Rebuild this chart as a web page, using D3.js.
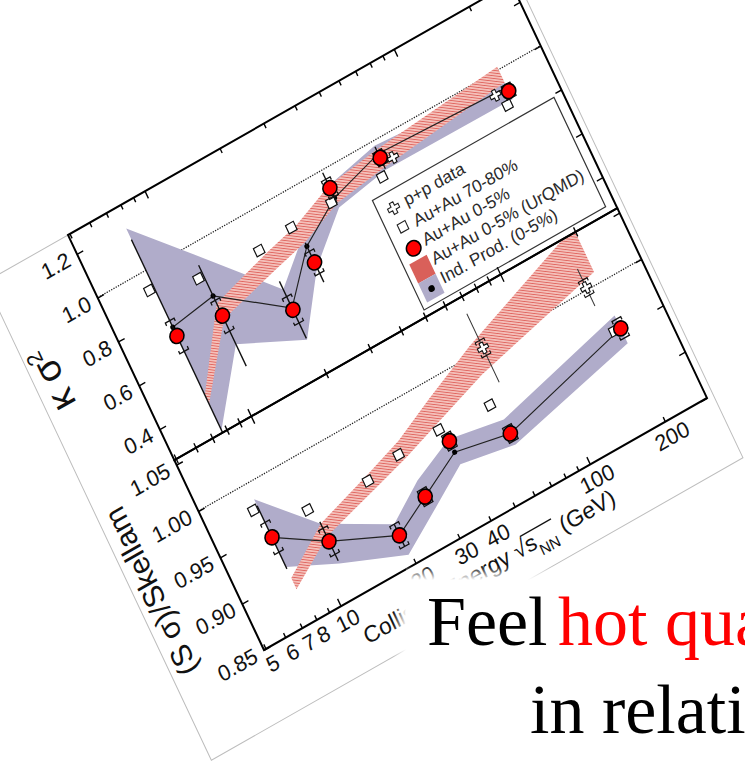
<!DOCTYPE html>
<html>
<head>
<meta charset="utf-8">
<script src="https://cdn.jsdelivr.net/npm/d3@7"></script>
<style>
  html, body { margin: 0; padding: 0; background: #fff; }
  svg { display: block; }
</style>
</head>
<body>
<div id="wrapper"></div>
<script>
// collision energies (GeV)
const energies = [7.7, 11.5, 19.6, 27, 39, 62.4, 200];
const periphEnergies = [7.37, 10.97, 18.8, 25.7, 37.5, 59.3, 189];
const ppEnergies = [68.6, 179];

// kappa sigma^2 panel
const kCentral = [0.70, 0.68, 0.557, 0.683, 0.919, 0.925, 0.902];
const kStat = [0.44, 0.23, 0.13, 0.09, 0.07, 0.05, 0.03];
const kSys = [0.07, 0.07, 0.06, 0.05, 0.04, 0.03, 0.03];
const kPeriph = [0.92, 0.862, 0.839, 0.856, 0.864, 0.852, 0.854];
const kPP = [0.90, 0.914];
const kPPerr = [0.02, 0.02];
const kUrqmd = [0.41, 0.70, 0.775, 0.815, 0.89, 0.922, 0.977];
const kUrqmdHalf = [0.02, 0.035, 0.04, 0.04, 0.04, 0.04, 0.036];
const kInd = [0.74, 0.77, 0.565, 0.757, 0.874, 0.944, 0.919];
const kIndLo = [0.27, 0.55, 0.42, 0.66, 0.83, 0.87, 0.865];
const kIndHi = [1.19, 0.96, 0.65, 0.80, 0.93, 0.98, 0.94];

// S sigma / Skellam panel
const sCentral = [0.942, 0.911, 0.882, 0.9025, 0.938, 0.915, 0.951];
const sStat = [0.034, 0.021, 0.012, 0.008, 0.006, 0.005, 0.004];
const sSys = [0.016, 0.014, 0.012, 0.008, 0.008, 0.008, 0.01];
const sPeriph = [0.974, 0.948, 0.9435, 0.951, 0.9527, 0.949, 0.952];
const sPP = [1.001, 1.0025];
const sPPerr = [0.037, 0.02];
const sUrqmd = [0.892, 0.923, 0.942, 0.954, 0.972, 0.994, 1.036];
const sUrqmdHalf = [0.006, 0.007, 0.008, 0.009, 0.012, 0.015, 0.024];
const sInd = [0.942, 0.911, 0.882, 0.9025, 0.926, 0.915, 0.951];
const sIndLo = [0.910, 0.887, 0.861, 0.885, 0.913, 0.903, 0.935];
const sIndHi = [0.983, 0.930, 0.894, 0.920, 0.940, 0.930, 0.965];

const xMinorTicks = [5, 6, 7, 8, 9, 20, 30, 40, 50, 60, 70, 80, 90, 200];
const xMajorTicks = [10, 100];
const xLabels = [5, 6, 7, 8, 10, 20, 30, 40, 100, 200];
const kTicks = [0.4, 0.6, 0.8, 1.0, 1.2];
const sTicks = [0.85, 0.90, 0.95, 1.00, 1.05];

const legendLabels = ["p+p data", "Au+Au 70-80%", "Au+Au 0-5%", "Au+Au 0-5% (UrQMD)", "Ind. Prod. (0-5%)"];
const slideLine1 = ["Feel ", "hot quark matter"];
const slideLine2 = "in relativistic heavy-ion collisions";

const sans = "'Liberation Sans', Arial, sans-serif";
const serif = "'Liberation Serif', 'Times New Roman', serif";
const plotW = 510, h1 = 249, hTot = 459;

const svg = d3.select("#wrapper").append("svg").attr("width", 745).attr("height", 765);
svg.append("rect").attr("width", 745).attr("height", 765).attr("fill", "#fff");
const defs = svg.append("defs");

const pat = defs.append("pattern").attr("id", "hatch").attr("patternUnits", "userSpaceOnUse")
  .attr("width", 2.6).attr("height", 2.6).attr("patternTransform", "rotate(35)");
pat.append("rect").attr("width", 2.6).attr("height", 2.6).attr("fill", "#f4c0ba");
pat.append("line").attr("x1", 0).attr("x2", 2.6).attr("y1", 1.3).attr("y2", 1.3)
  .attr("stroke", "#e06660").attr("stroke-width", 0.9);

// soft white edges of the slide text box
const fadeL = defs.append("linearGradient").attr("id", "fadeL").attr("x1", 0).attr("x2", 1).attr("y1", 0).attr("y2", 0);
fadeL.append("stop").attr("offset", 0).attr("stop-color", "#fff").attr("stop-opacity", 0);
fadeL.append("stop").attr("offset", 1).attr("stop-color", "#fff").attr("stop-opacity", 1);
const fadeT = defs.append("linearGradient").attr("id", "fadeT").attr("x1", 0).attr("x2", 0).attr("y1", 0).attr("y2", 1);
fadeT.append("stop").attr("offset", 0).attr("stop-color", "#fff").attr("stop-opacity", 0);
fadeT.append("stop").attr("offset", 1).attr("stop-color", "#fff").attr("stop-opacity", 1);

defs.append("clipPath").attr("id", "clipK").append("rect").attr("width", plotW).attr("height", h1);
defs.append("clipPath").attr("id", "clipS").append("rect").attr("y", h1).attr("width", plotW).attr("height", hTot - h1);

const x = d3.scaleLog().domain([4.93, 295]).range([0, plotW]);
const yK = d3.scaleLinear().domain([0.259, 1.286]).range([h1, 0]);
const yS = d3.scaleLinear().domain([0.85, 1.055]).range([hTot, h1]);

// the figure is a tilted photo of a page: shear chart space onto it
const chart = svg.append("g").attr("transform", "matrix(0.8686,-0.4941,0.427,0.9041,68,235)");

chart.append("rect").attr("x", -95).attr("y", 0).attr("width", 612).attr("height", 529)
  .attr("fill", "#fff").attr("stroke", "#bdbdbd").attr("stroke-width", 1);

function cap(cx, cy, dir) {
  return `M${cx - 5},${cy + 3 * dir}V${cy}H${cx + 5}V${cy + 3 * dir}`;
}

function drawPanel(y, clip, d) {
  const rows = energies.map((e, i) => ({
    e, c: d.central[i], st: d.stat[i], sy: d.sys[i], u: d.urqmd[i], uw: d.urqmdHalf[i],
    ind: d.ind[i], lo: d.indLo[i], hi: d.indHi[i]
  }));
  const p = chart.append("g").attr("clip-path", `url(#${clip})`);

  p.append("line").attr("x1", 0).attr("x2", plotW).attr("y1", y(1)).attr("y2", y(1))
    .attr("stroke", "#222").attr("stroke-width", 1.3).attr("stroke-dasharray", "1.3,1.3");

  p.append("path").datum(rows).attr("fill", "#b0acca")
    .attr("d", d3.area().x(r => x(r.e)).y0(r => y(r.lo)).y1(r => y(r.hi)));
  p.append("path").datum(rows).attr("fill", "url(#hatch)")
    .attr("d", d3.area().x(r => x(r.e)).y0(r => y(r.u - r.uw)).y1(r => y(r.u + r.uw)));
  p.append("path").datum(rows).attr("fill", "none").attr("stroke", "#222").attr("stroke-width", 1.2)
    .attr("d", d3.line().x(r => x(r.e)).y(r => y(r.ind)));
  p.selectAll(".inddot").data(rows).join("circle").attr("class", "inddot")
    .attr("cx", r => x(r.e)).attr("cy", r => y(r.ind)).attr("r", 2.6).attr("fill", "#000");

  // peripheral squares
  p.selectAll(".sq").data(periphEnergies.map((e, i) => ({ e, v: d.periph[i] }))).join("rect").attr("class", "sq")
    .attr("x", r => x(r.e) - 4.5).attr("y", r => y(r.v) - 4.5).attr("width", 9).attr("height", 9)
    .attr("fill", "#fff").attr("stroke", "#111").attr("stroke-width", 1.2);

  // p+p crosses with error bars
  const pp = ppEnergies.map((e, i) => ({ e, v: d.pp[i], er: d.ppErr[i] }));
  p.selectAll(".pperr").data(pp).join("line").attr("class", "pperr")
    .attr("x1", r => x(r.e)).attr("x2", r => x(r.e)).attr("y1", r => y(r.v + r.er)).attr("y2", r => y(r.v - r.er))
    .attr("stroke", "#333").attr("stroke-width", 1);
  p.selectAll(".ppcap").data(pp).join("path").attr("class", "ppcap")
    .attr("d", r => cap(x(r.e), y(r.v + 0.008), 1) + cap(x(r.e), y(r.v - 0.008), -1))
    .attr("fill", "none").attr("stroke", "#111").attr("stroke-width", 1.1);
  p.selectAll(".pp").data(pp).join("path").attr("class", "pp")
    .attr("transform", r => `translate(${x(r.e)},${y(r.v)})`)
    .attr("d", d3.symbol().type(d3.symbolCross).size(70))
    .attr("fill", "#fff").attr("stroke", "#111").attr("stroke-width", 1.1);

  // central: stat bars, sys caps, circles
  p.selectAll(".stat").data(rows).join("line").attr("class", "stat")
    .attr("x1", r => x(r.e)).attr("x2", r => x(r.e)).attr("y1", r => y(r.c + r.st)).attr("y2", r => y(r.c - r.st))
    .attr("stroke", "#111").attr("stroke-width", 1.4);
  p.selectAll(".sys").data(rows).join("path").attr("class", "sys")
    .attr("d", r => cap(x(r.e), y(r.c + r.sy), 1) + cap(x(r.e), y(r.c - r.sy), -1))
    .attr("fill", "none").attr("stroke", "#111").attr("stroke-width", 1.3);
  p.selectAll(".cen").data(rows).join("circle").attr("class", "cen")
    .attr("cx", r => x(r.e)).attr("cy", r => y(r.c)).attr("r", 7.3)
    .attr("fill", "#ff0000").attr("stroke", "#000").attr("stroke-width", 1.6);
}

drawPanel(yK, "clipK", {
  central: kCentral, stat: kStat, sys: kSys, periph: kPeriph, pp: kPP, ppErr: kPPerr,
  urqmd: kUrqmd, urqmdHalf: kUrqmdHalf, ind: kInd, indLo: kIndLo, indHi: kIndHi
});
drawPanel(yS, "clipS", {
  central: sCentral, stat: sStat, sys: sSys, periph: sPeriph, pp: sPP, ppErr: sPPerr,
  urqmd: sUrqmd, urqmdHalf: sUrqmdHalf, ind: sInd, indLo: sIndLo, indHi: sIndHi
});

// legend
const lg = chart.append("g");
lg.append("rect").attr("x", 291).attr("y", 121).attr("width", 209).attr("height", 121)
  .attr("fill", "#fff").attr("stroke", "#333").attr("stroke-width", 1.2);
lg.append("path").attr("transform", "translate(307,138)").attr("d", d3.symbol().type(d3.symbolCross).size(80))
  .attr("fill", "#fff").attr("stroke", "#222").attr("stroke-width", 1.1);
lg.append("rect").attr("x", 303).attr("y", 154.5).attr("width", 9).attr("height", 9)
  .attr("fill", "#fff").attr("stroke", "#222").attr("stroke-width", 1.1);
lg.append("circle").attr("cx", 308).attr("cy", 183).attr("r", 7.5)
  .attr("fill", "#ff0000").attr("stroke", "#000").attr("stroke-width", 1.6);
lg.append("rect").attr("x", 297).attr("y", 195).attr("width", 20).attr("height", 21).attr("fill", "#d9605a");
lg.append("rect").attr("x", 297).attr("y", 216).attr("width", 20).attr("height", 21).attr("fill", "#b0acca");
lg.append("circle").attr("cx", 307).attr("cy", 227).attr("r", 3.3).attr("fill", "#000");
lg.selectAll(".lt").data(legendLabels).join("text").attr("class", "lt")
  .attr("x", 320).attr("y", (t, i) => [143, 166, 187, 208, 229][i])
  .attr("font-family", sans).attr("font-size", 17.4).attr("fill", "#2a2a2a").text(t => t);

// ticks on every edge, pointing inward
function xTicksAt(yPos, inward) {
  [[xMinorTicks, 5], [xMajorTicks, 8]].forEach(([vals, len]) => {
    chart.append("g").attr("transform", `translate(0,${yPos})`)
      .call(d3.axisBottom(x).tickValues(vals).tickSize(len * inward).tickFormat(""))
      .call(a => a.select(".domain").remove())
      .selectAll("line").attr("stroke", "#000").attr("stroke-width", 1.4);
  });
}
xTicksAt(0, 1);
xTicksAt(h1, -1);
xTicksAt(h1, 1);
xTicksAt(hTot, -1);

function yAxes(y, vals, fmt) {
  const left = chart.append("g")
    .call(d3.axisLeft(y).tickValues(vals).tickSize(-7).tickPadding(9).tickFormat(d3.format(fmt)))
    .call(a => a.select(".domain").remove());
  left.selectAll("line").attr("stroke", "#000").attr("stroke-width", 1.4);
  left.selectAll("text").attr("font-family", sans).attr("font-size", 22).attr("fill", "#111");
  chart.append("g").attr("transform", `translate(${plotW},0)`)
    .call(d3.axisRight(y).tickValues(vals).tickSize(-7).tickFormat(""))
    .call(a => a.select(".domain").remove())
    .selectAll("line").attr("stroke", "#000").attr("stroke-width", 1.4);
}
yAxes(yK, kTicks, ".1f");
yAxes(yS, sTicks, ".2f");

const xl = chart.append("g").attr("transform", `translate(0,${hTot})`)
  .call(d3.axisBottom(x).tickValues(xLabels).tickSize(0).tickPadding(8).tickFormat(d3.format("d")))
  .call(a => a.select(".domain").remove());
xl.selectAll("text").attr("font-family", sans).attr("font-size", 22).attr("fill", "#111");

// frames
chart.append("rect").attr("width", plotW).attr("height", h1)
  .attr("fill", "none").attr("stroke", "#000").attr("stroke-width", 2);
chart.append("rect").attr("y", h1).attr("width", plotW).attr("height", hTot - h1)
  .attr("fill", "none").attr("stroke", "#000").attr("stroke-width", 2);

// axis titles
const kt = chart.append("text").attr("transform", "translate(-64,118) rotate(-90)")
  .attr("text-anchor", "middle").attr("font-family", sans).attr("font-size", 38).attr("fill", "#111");
kt.append("tspan").text("κ σ");
kt.append("tspan").attr("baseline-shift", "super").attr("font-size", 22).text("2");

chart.append("text").attr("transform", "translate(-67,352) rotate(-90)")
  .attr("text-anchor", "middle").attr("font-family", sans).attr("font-size", 30).attr("fill", "#111")
  .text("(S σ)/Skellam");

const xt = chart.append("text").attr("x", 240).attr("y", 506).attr("text-anchor", "middle")
  .attr("font-family", sans).attr("font-size", 23).attr("fill", "#111");
xt.append("tspan").text("Collision Energy √");
xt.append("tspan").text("s");
xt.append("tspan").attr("baseline-shift", "sub").attr("font-size", 15.5).text("NN");
xt.append("tspan").text(" (GeV)");
const xn = xt.node();
const ov0 = xn.getEndPositionOfChar(17).x - 1;
const ov1 = xn.getEndPositionOfChar(20).x + 1;
chart.append("line").attr("x1", ov0).attr("x2", ov1).attr("y1", 506 - 19).attr("y2", 506 - 19)
  .attr("stroke", "#111").attr("stroke-width", 1.3);

// slide text box covering the lower corner of the figure
svg.append("rect").attr("x", 406).attr("y", 580).attr("width", 350).attr("height", 200).attr("fill", "#fff");
svg.append("rect").attr("x", 393).attr("y", 580).attr("width", 13).attr("height", 200).attr("fill", "url(#fadeL)");
svg.append("rect").attr("x", 406).attr("y", 566).attr("width", 350).attr("height", 14).attr("fill", "url(#fadeT)");

const t1 = svg.append("text").attr("y", 645).attr("font-family", serif).attr("font-size", 70);
t1.append("tspan").attr("x", 427).attr("fill", "#000").text(slideLine1[0]);
t1.append("tspan").attr("x", 558).attr("fill", "#ff0000").text(slideLine1[1]);
svg.append("text").attr("x", 530).attr("y", 733).attr("font-family", serif)
  .attr("font-size", 70).attr("fill", "#000").text(slideLine2);
</script>
</body>
</html>
